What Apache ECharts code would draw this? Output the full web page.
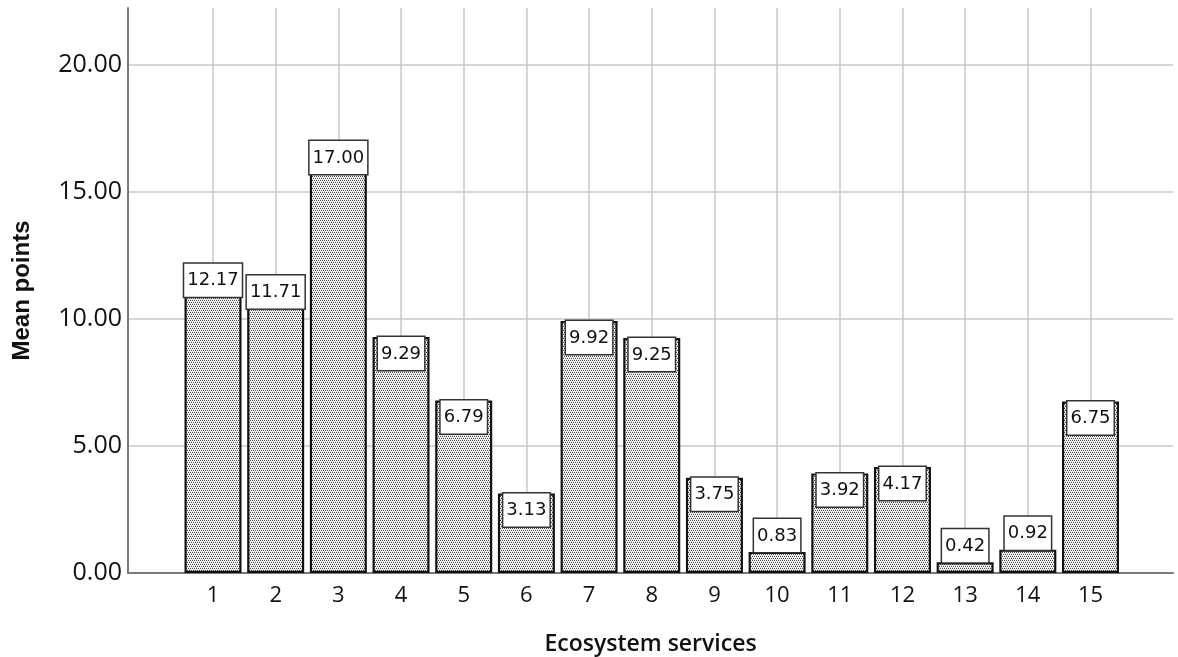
<!DOCTYPE html>
<html>
<head>
<meta charset="utf-8">
<script src="https://cdn.jsdelivr.net/npm/echarts@6/dist/echarts.min.js"></script>
<style>
  html, body { margin: 0; padding: 0; background: #fff; }
  #chart { width: 1178px; height: 657px; }
</style>
</head>
<body>
<div id="chart"></div>
<script>
// Ecosystem services (1-15) and their mean points
const categories = ['1', '2', '3', '4', '5', '6', '7', '8', '9', '10', '11', '12', '13', '14', '15'];
const meanPoints = [12.17, 11.71, 17.00, 9.29, 6.79, 3.13, 9.92, 9.25, 3.75, 0.83, 3.92, 4.17, 0.42, 0.92, 6.75];
const yTickStep = 5;
const yMax = 22.24;

// Fine stipple fill for the bars
function stipple() {
  const c = document.createElement('canvas');
  c.width = 4; c.height = 4;
  const g = c.getContext('2d');
  g.fillStyle = '#ffffff';
  g.fillRect(0, 0, 4, 4);
  g.fillStyle = '#4a4a4a';
  [[0, 0], [2, 0], [1, 2], [3, 2]].forEach(([x, y]) => g.fillRect(x, y, 1, 1));
  g.fillStyle = '#d8d8d8';
  [[1, 1], [3, 1], [0, 3], [2, 3]].forEach(([x, y]) => g.fillRect(x, y, 1, 1));
  return c;
}

const TOP = 8, BOTTOM = 84;

const chart = echarts.init(document.getElementById('chart'));
chart.setOption({
  animation: false,
  backgroundColor: '#ffffff',
  grid: [
    // frame: y axis, baseline and horizontal grid
    { left: 128, right: 5, top: TOP, bottom: BOTTOM, outerBoundsMode: 'none', containLabel: false },
    // category area: bars, vertical grid, category labels
    { left: 213, right: 87.5, top: TOP, bottom: BOTTOM, outerBoundsMode: 'none', containLabel: false }
  ],
  xAxis: [
    {
      gridIndex: 0, type: 'value', min: 0, max: 1,
      axisLine: { show: true, lineStyle: { color: '#7a7a7a', width: 2 } },
      axisTick: { show: false }, axisLabel: { show: false }, splitLine: { show: false },
      name: 'Ecosystem services', nameLocation: 'middle', nameGap: 60,
      nameTextStyle: { fontFamily: 'Open Sans', fontWeight: 600, fontSize: 23, color: '#111' }
    },
    {
      gridIndex: 1, type: 'category', data: categories, boundaryGap: false,
      axisLine: { show: false }, axisTick: { show: false },
      axisLabel: { interval: 0, margin: 12, fontFamily: 'Open Sans', fontSize: 22, color: '#111' },
      splitLine: { show: true, interval: 0, lineStyle: { color: '#c8c8c8', width: 1.5 } }
    }
  ],
  yAxis: [
    {
      gridIndex: 0, type: 'value', min: 0, max: yMax, interval: yTickStep,
      axisLine: { show: true, lineStyle: { color: '#7a7a7a', width: 2 } },
      axisTick: { show: false },
      axisLabel: {
        margin: 6, showMaxLabel: false,
        fontFamily: 'Open Sans', fontSize: 25, color: '#111',
        formatter: v => (v % yTickStep === 0 ? v.toFixed(2) : '')
      },
      splitLine: { show: true, showMinLine: false, showMaxLine: false, lineStyle: { color: '#c8c8c8', width: 1.5 } },
      name: 'Mean points', nameLocation: 'middle', nameGap: 94,
      nameTextStyle: { fontFamily: 'Liberation Sans', fontWeight: 'bold', fontSize: 24, color: '#111' }
    },
    { gridIndex: 1, type: 'value', min: 0, max: yMax, show: false }
  ],
  series: [{
    type: 'bar', xAxisIndex: 1, yAxisIndex: 1, clip: false, barWidth: 57,
    data: meanPoints.map(v => ({
      value: v,
      label: { position: v < 1.5 ? 'top' : 'insideTop' }
    })),
    itemStyle: {
      color: { image: stipple(), repeat: 'repeat' },
      borderColor: '#111111', borderWidth: 2.2
    },
    label: {
      show: true, distance: 0,
      formatter: p => p.value.toFixed(2),
      fontFamily: 'DejaVu Sans', fontSize: 18, lineHeight: 20, color: '#111',
      backgroundColor: '#ffffff', borderColor: '#333333', borderWidth: 1.5,
      padding: [7, 3, 6, 3]
    }
  }]
});
</script>
</body>
</html>
